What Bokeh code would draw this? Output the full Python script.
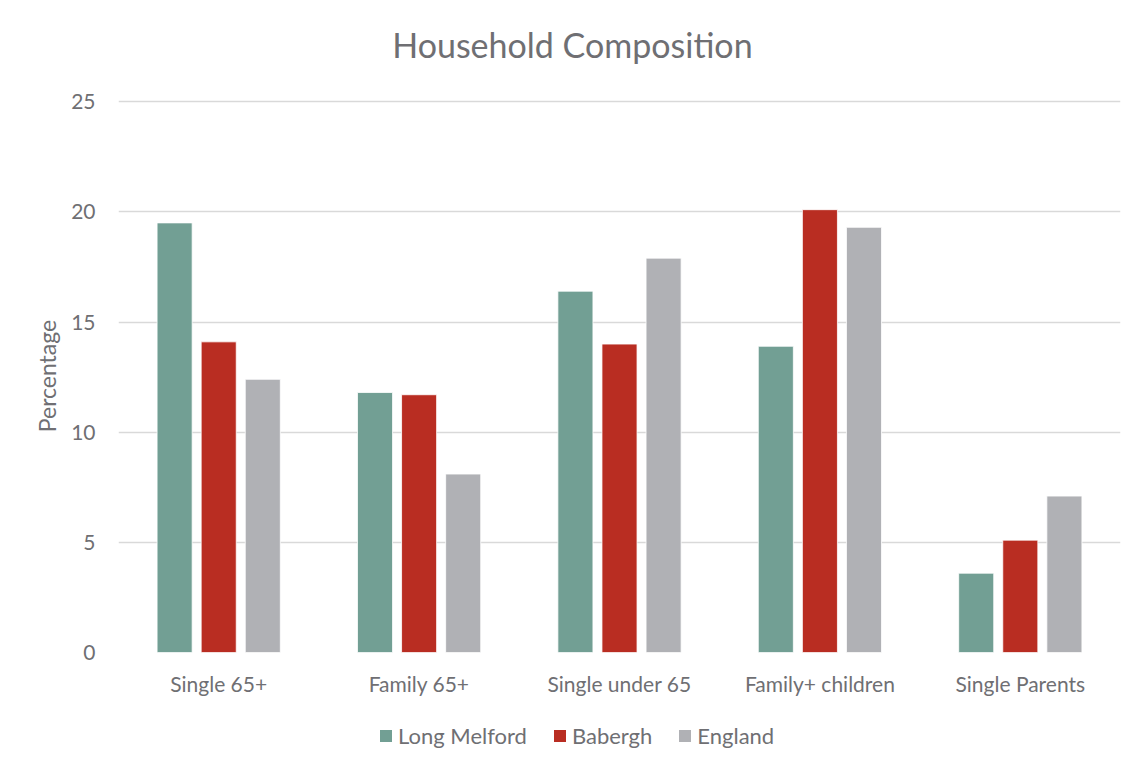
from bokeh.plotting import figure
from bokeh.models import ColumnDataSource, Legend, LegendItem, Label
from bokeh.layouts import column
from bokeh.transform import dodge
from bokeh.embed import file_html
from bokeh.resources import INLINE

title_text = "Household Composition"
categories = ["Single 65+", "Family 65+", "Single under 65", "Family+ children", "Single Parents"]
series_names = ["Long Melford", "Babergh", "England"]
long_melford = [19.5, 11.8, 16.4, 13.9, 3.6]
babergh = [14.1, 11.7, 14.0, 20.1, 5.1]
england = [12.4, 8.1, 17.9, 19.3, 7.1]
y_ticks = [0, 5, 10, 15, 20, 25]

colors = ["#729f94", "#b92d22", "#b0b1b5"]
FONT = "Lato"
TXT = "#6f6f73"

src = ColumnDataSource(dict(cat=categories, lm=long_melford, ba=babergh, en=england))

# title strip (frame aligned with the chart frame by the column layout)
pt = figure(width=1136, height=80, output_backend="svg", toolbar_location=None,
            min_border=0, x_range=(0, 1), y_range=(0, 1))
pt.axis.visible = False
pt.grid.visible = False
pt.outline_line_color = None
pt.add_layout(Label(x=0.453, y=0.45, text=title_text, text_align="center",
                    text_baseline="alphabetic", text_font=FONT, text_font_size="34px",
                    text_color=TXT))

p = figure(x_range=categories, y_range=(0, 25.1), width=1136, height=620,
           output_backend="svg", toolbar_location=None,
           min_border_left=118, min_border_right=16, min_border_top=19, min_border_bottom=48)
p.x_range.range_padding = 0
p.outline_line_color = None

for key, off, col in zip(["lm", "ba", "en"], [-0.22, 0.0, 0.22], colors):
    p.vbar(x=dodge("cat", off, range=p.x_range), top=key, width=0.175, bottom=0,
           source=src, fill_color=col, line_color="white", line_width=0.8)

p.xgrid.grid_line_color = None
p.ygrid.grid_line_color = "#d9d9d9"
p.ygrid.grid_line_width = 1.5
p.yaxis.ticker = y_ticks

for ax in (p.xaxis[0], p.yaxis[0]):
    ax.axis_line_color = None
    ax.major_tick_line_color = None
    ax.minor_tick_line_color = None
    ax.major_label_text_font = FONT
    ax.major_label_text_font_size = "21px"
    ax.major_label_text_color = TXT

p.xaxis.major_label_standoff = 12
p.yaxis.major_label_standoff = 17
p.yaxis.axis_label = "Percentage"
p.yaxis.axis_label_text_font = FONT
p.yaxis.axis_label_text_font_size = "23px"
p.yaxis.axis_label_text_font_style = "normal"
p.yaxis.axis_label_text_color = TXT
p.yaxis.axis_label_standoff = 7

# legend strip underneath the chart
pl = figure(width=1136, height=59, output_backend="svg", toolbar_location=None,
            min_border=0, x_range=(0, 1), y_range=(0, 1))
pl.axis.visible = False
pl.grid.visible = False
pl.outline_line_color = None
leg_renderers = [pl.vbar(x=[5], top=[0], bottom=[0], width=0.1, fill_color=c, line_color=None)
                 for c in colors]
legend = Legend(items=[LegendItem(label=n, renderers=[r]) for n, r in zip(series_names, leg_renderers)],
                orientation="horizontal", location=(260, 10),
                label_text_font=FONT, label_text_font_size="22px", label_text_color=TXT,
                glyph_width=15, glyph_height=15, spacing=25, label_standoff=5,
                padding=0, margin=0, border_line_color=None, background_fill_alpha=0)
pl.add_layout(legend, "center")

layout = column(pt, p, pl, spacing=0)
open("out.html", "w").write(file_html(layout, INLINE))
